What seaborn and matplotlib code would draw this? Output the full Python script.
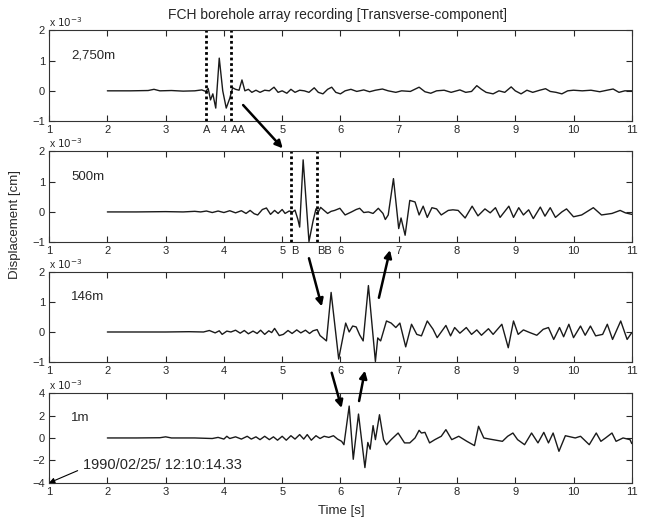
import matplotlib
matplotlib.use("Agg")
import numpy as np
import pandas as pd
import matplotlib.pyplot as plt
import seaborn as sns
from matplotlib.patches import ConnectionPatch
from matplotlib.transforms import blended_transform_factory

# Wellenformen (Zeit [s], Verschiebung [x 1e-3 cm])
trace_2750 = [(2.0, 0.0), (2.4, 0.0), (2.7, 0.01), (2.8, 0.05), (2.9, 0.0), (3.1, 0.01), (3.3, -0.01),
              (3.5, 0.0), (3.62, 0.03), (3.69, -0.02), (3.73, 0.08), (3.77, -0.3), (3.81, -0.1),
              (3.86, -0.57), (3.92, 1.08), (3.98, 0.0), (4.04, -0.57), (4.10, -0.25), (4.15, 0.1),
              (4.2, 0.05), (4.26, 0.02), (4.31, 0.36), (4.36, 0.0), (4.42, 0.05), (4.48, -0.05),
              (4.55, 0.02), (4.62, -0.05), (4.7, 0.02), (4.78, 0.0), (4.86, 0.12), (4.93, -0.05),
              (5.0, 0.0), (5.08, -0.08), (5.15, 0.05), (5.22, -0.05), (5.3, 0.02), (5.38, 0.0),
              (5.46, -0.05), (5.55, 0.1), (5.62, -0.05), (5.7, -0.1), (5.78, 0.05), (5.85, 0.12),
              (5.92, -0.05), (6.0, -0.1), (6.08, 0.0), (6.18, 0.05), (6.28, -0.02), (6.4, 0.03),
              (6.5, -0.03), (6.6, 0.02), (6.72, 0.06), (6.82, 0.0), (6.95, -0.05), (7.05, 0.0),
              (7.2, -0.02), (7.35, 0.12), (7.45, -0.03), (7.55, -0.08), (7.65, 0.0), (7.78, 0.02),
              (7.9, -0.05), (8.05, 0.03), (8.15, -0.05), (8.25, -0.02), (8.34, 0.17), (8.42, 0.05),
              (8.5, -0.05), (8.62, -0.1), (8.72, 0.0), (8.82, -0.05), (8.93, 0.13), (9.0, 0.0),
              (9.1, -0.1), (9.2, 0.02), (9.3, -0.05), (9.42, 0.02), (9.52, 0.07), (9.6, -0.02),
              (9.7, -0.05), (9.8, -0.1), (9.9, 0.0), (10.0, 0.02), (10.15, 0.0), (10.3, 0.02),
              (10.45, -0.03), (10.6, 0.03), (10.68, 0.06), (10.78, -0.05), (10.88, 0.0), (11.0, 0.0)]

trace_500 = [(2.0, 0.0), (2.5, 0.0), (3.0, 0.01), (3.3, 0.0), (3.5, 0.02), (3.6, 0.0), (3.7, 0.03),
             (3.8, -0.02), (3.9, 0.03), (4.0, -0.02), (4.1, 0.04), (4.2, -0.03), (4.3, 0.04),
             (4.38, -0.05), (4.45, 0.05), (4.52, -0.06), (4.58, -0.1), (4.66, 0.08), (4.73, 0.13),
             (4.8, -0.08), (4.87, 0.05), (4.93, -0.05), (5.0, 0.08), (5.05, -0.05), (5.12, 0.03),
             (5.18, 0.0), (5.22, 0.06), (5.27, -0.25), (5.30, -0.5), (5.36, 1.72), (5.46, -0.98),
             (5.53, -0.3), (5.58, 0.1), (5.62, 0.0), (5.66, 0.15), (5.72, 0.05), (5.78, -0.05),
             (5.84, 0.02), (5.9, 0.05), (5.99, 0.12), (6.08, -0.1), (6.19, 0.0), (6.27, 0.08),
             (6.33, 0.12), (6.40, -0.02), (6.48, 0.0), (6.56, -0.05), (6.65, 0.12), (6.73, -0.05),
             (6.77, -0.25), (6.82, -0.1), (6.91, 1.1), (7.0, -0.55), (7.04, -0.2), (7.11, -0.77),
             (7.19, 0.38), (7.28, 0.33), (7.35, -0.1), (7.42, 0.19), (7.49, -0.18), (7.57, 0.14),
             (7.65, 0.1), (7.73, -0.1), (7.85, 0.05), (7.93, 0.07), (8.02, 0.05), (8.14, -0.2),
             (8.26, 0.19), (8.36, -0.13), (8.48, 0.1), (8.57, -0.03), (8.66, 0.14), (8.74, -0.18),
             (8.89, 0.19), (8.97, -0.18), (9.06, 0.14), (9.14, -0.1), (9.23, 0.07), (9.31, -0.22),
             (9.43, 0.16), (9.51, -0.14), (9.6, 0.14), (9.69, -0.18), (9.8, 0.0), (9.88, 0.1),
             (10.0, -0.16), (10.14, -0.1), (10.34, 0.14), (10.48, -0.1), (10.66, -0.05),
             (10.8, 0.05), (10.89, -0.03), (11.0, -0.08)]

trace_146 = [(2.0, 0.0), (2.5, 0.0), (3.0, 0.0), (3.4, 0.01), (3.65, 0.0), (3.75, 0.05), (3.85, -0.03),
             (3.92, 0.04), (3.97, -0.08), (4.05, 0.03), (4.12, 0.0), (4.2, 0.06), (4.28, -0.04),
             (4.35, 0.05), (4.42, -0.06), (4.5, 0.03), (4.57, -0.05), (4.63, 0.06), (4.7, -0.08),
             (4.77, 0.04), (4.82, -0.02), (4.87, 0.12), (4.95, -0.12), (5.02, -0.08), (5.1, 0.05),
             (5.17, -0.05), (5.25, 0.07), (5.32, -0.03), (5.4, 0.06), (5.47, -0.05), (5.53, 0.04),
             (5.6, 0.08), (5.65, -0.12), (5.7, -0.2), (5.76, -0.3), (5.84, 1.33), (5.97, -0.91),
             (6.0, -0.6), (6.09, 0.3), (6.15, 0.0), (6.21, 0.2), (6.27, 0.17), (6.33, -0.1),
             (6.39, -0.3), (6.48, 1.56), (6.6, -0.99), (6.64, -0.2), (6.69, -0.3), (6.79, 0.37),
             (6.87, 0.3), (6.95, 0.15), (7.02, 0.3), (7.12, -0.5), (7.22, 0.26), (7.31, -0.08),
             (7.39, -0.13), (7.49, 0.37), (7.59, 0.09), (7.66, -0.19), (7.81, 0.22), (7.89, -0.13),
             (7.96, 0.15), (8.05, -0.04), (8.16, 0.15), (8.25, -0.08), (8.34, 0.07), (8.42, -0.11),
             (8.54, 0.11), (8.62, -0.08), (8.77, 0.26), (8.88, -0.53), (8.97, 0.37), (9.05, -0.08),
             (9.14, 0.07), (9.25, -0.02), (9.37, -0.11), (9.48, 0.09), (9.57, 0.15), (9.66, -0.25),
             (9.76, 0.15), (9.83, -0.16), (9.92, 0.26), (10.0, -0.19), (10.12, 0.2), (10.2, -0.11),
             (10.29, 0.2), (10.38, -0.13), (10.5, -0.08), (10.58, 0.26), (10.67, -0.25),
             (10.81, 0.37), (10.92, -0.25), (11.0, -0.02)]

trace_1 = [(2.0, 0.0), (2.5, 0.0), (2.9, 0.02), (3.0, 0.1), (3.1, 0.0), (3.5, 0.0), (3.8, -0.05),
           (3.9, 0.05), (4.0, -0.1), (4.05, 0.15), (4.1, -0.05), (4.2, 0.1), (4.3, -0.1), (4.4, 0.15),
           (4.47, -0.1), (4.55, 0.1), (4.62, -0.15), (4.7, 0.15), (4.78, -0.15), (4.85, 0.1),
           (4.92, -0.2), (5.0, 0.15), (5.07, -0.2), (5.15, 0.2), (5.22, -0.1), (5.3, 0.3),
           (5.37, -0.1), (5.43, 0.3), (5.5, -0.2), (5.58, 0.2), (5.65, -0.05), (5.72, 0.15),
           (5.8, 0.05), (5.88, 0.2), (5.95, -0.1), (6.02, -0.3), (6.06, -0.6), (6.15, 2.84),
           (6.22, -1.9), (6.31, 2.13), (6.42, -2.64), (6.47, -0.4), (6.51, -1.0), (6.56, 1.1),
           (6.6, -0.15), (6.67, 2.07), (6.74, -0.15), (6.79, -0.6), (6.87, -0.15), (6.99, 0.44),
           (7.1, -0.44), (7.19, -0.44), (7.28, 0.0), (7.35, 0.68), (7.39, 0.44), (7.45, 0.5),
           (7.53, -0.44), (7.62, -0.15), (7.73, 0.15), (7.81, 0.74), (7.91, -0.15), (8.03, 0.15),
           (8.17, -0.3), (8.3, -0.68), (8.37, 1.04), (8.46, 0.0), (8.55, -0.09), (8.67, -0.2),
           (8.78, -0.3), (8.87, 0.15), (8.96, 0.44), (9.04, -0.15), (9.16, -0.6), (9.28, 0.44),
           (9.39, -0.44), (9.49, 0.5), (9.57, -0.44), (9.65, 0.44), (9.75, -1.19), (9.86, 0.2),
           (10.03, 0.0), (10.12, 0.15), (10.27, -0.6), (10.39, 0.44), (10.47, -0.3), (10.55, 0.0),
           (10.66, 0.44), (10.73, -0.3), (10.85, 0.0), (10.97, -0.15), (11.0, -0.5)]

depth_labels = ["2,750m", "500m", "146m", "1m"]
traces = [trace_2750, trace_500, trace_146, trace_1]
y_limits = [(-1, 2), (-1, 2), (-1, 2), (-4, 4)]
y_ticks = [[-1, 0, 1, 2], [-1, 0, 1, 2], [-1, 0, 1, 2], [-4, -2, 0, 2, 4]]
x_ticks = list(range(1, 12))

# Phasenmarken (gepunktete Linien) je Panel
marks = {0: [(3.7, "A", "center"), (4.13, "AA", "left")],
         1: [(5.15, "B", "left"), (5.6, "BB", "left")]}

sns.set_style("ticks")
plt.rcParams["font.family"] = ["Liberation Sans", "DejaVu Sans"]
plt.rcParams["axes.edgecolor"] = "#333333"

fig = plt.figure(figsize=(6.46, 5.22), dpi=100)
rects = [(0.076, 0.768, 0.902, 0.174),
         (0.076, 0.536, 0.902, 0.174),
         (0.076, 0.307, 0.902, 0.171),
         (0.076, 0.075, 0.902, 0.172)]
axes = []
for i, rect in enumerate(rects):
    ax = fig.add_axes(rect)
    df = pd.DataFrame(traces[i], columns=["t", "d"])
    sns.lineplot(data=df, x="t", y="d", ax=ax, color="#1a1a1a", lw=1.0,
                 estimator=None, sort=False)
    ax.set_xlim(1, 11)
    ax.set_ylim(*y_limits[i])
    ax.set_xticks(x_ticks)
    ax.set_yticks(y_ticks[i])
    ax.set_xlabel("")
    ax.set_ylabel("")
    ax.tick_params(direction="in", top=True, right=True, length=4, width=0.8,
                   labelsize=8, pad=3)
    for sp in ax.spines.values():
        sp.set_linewidth(0.8)
    ax.text(0.0, 1.015, r"x $10^{-3}$", transform=ax.transAxes, fontsize=7.5,
            ha="left", va="bottom")
    ax.text(0.038, 0.72, depth_labels[i], transform=ax.transAxes, fontsize=9.5,
            ha="left", va="center")
    trans = blended_transform_factory(ax.transData, ax.transAxes)
    for x, lab, ha in marks.get(i, []):
        ax.axvline(x, color="black", lw=2, ls=(0, (1, 1)))
        ax.annotate(lab, xy=(x, 0), xycoords=trans, xytext=(0, -3),
                    textcoords="offset points", ha=ha, va="top", fontsize=8)
    axes.append(ax)

# Pfeile zwischen den Panels
arrows = [(0, (4.33, -0.47), 1, (5.01, 2.1)),
          (1, (5.46, -1.53), 2, (5.68, 0.86)),
          (2, (6.66, 1.15), 1, (6.85, -1.26)),
          (2, (5.85, -1.37), 3, (6.02, 2.67)),
          (3, (6.32, 3.29), 2, (6.42, -1.30))]
for ia, pa, ib, pb in arrows:
    con = ConnectionPatch(xyA=pa, coordsA=axes[ia].transData,
                          xyB=pb, coordsB=axes[ib].transData,
                          arrowstyle="-|>", lw=1.8, color="black", mutation_scale=11)
    fig.add_artist(con)

axes[3].annotate("1990/02/25/ 12:10:14.33", xy=(1.0, -4.0), xytext=(1.59, -2.44),
                 fontsize=10.5, va="center", ha="left",
                 arrowprops=dict(arrowstyle="-|>", lw=0.8, color="black",
                                 mutation_scale=8, relpos=(0, 0.3), shrinkA=2, shrinkB=0))

fig.text(0.523, 0.971, "FCH borehole array recording [Transverse-component]",
         ha="center", va="center", fontsize=10)
fig.text(0.023, 0.57, "Displacement [cm]", rotation=90, ha="center", va="center", fontsize=9.5)
fig.text(0.528, 0.022, "Time [s]", ha="center", va="center", fontsize=9.5)

fig.savefig("out.png", dpi=100)
